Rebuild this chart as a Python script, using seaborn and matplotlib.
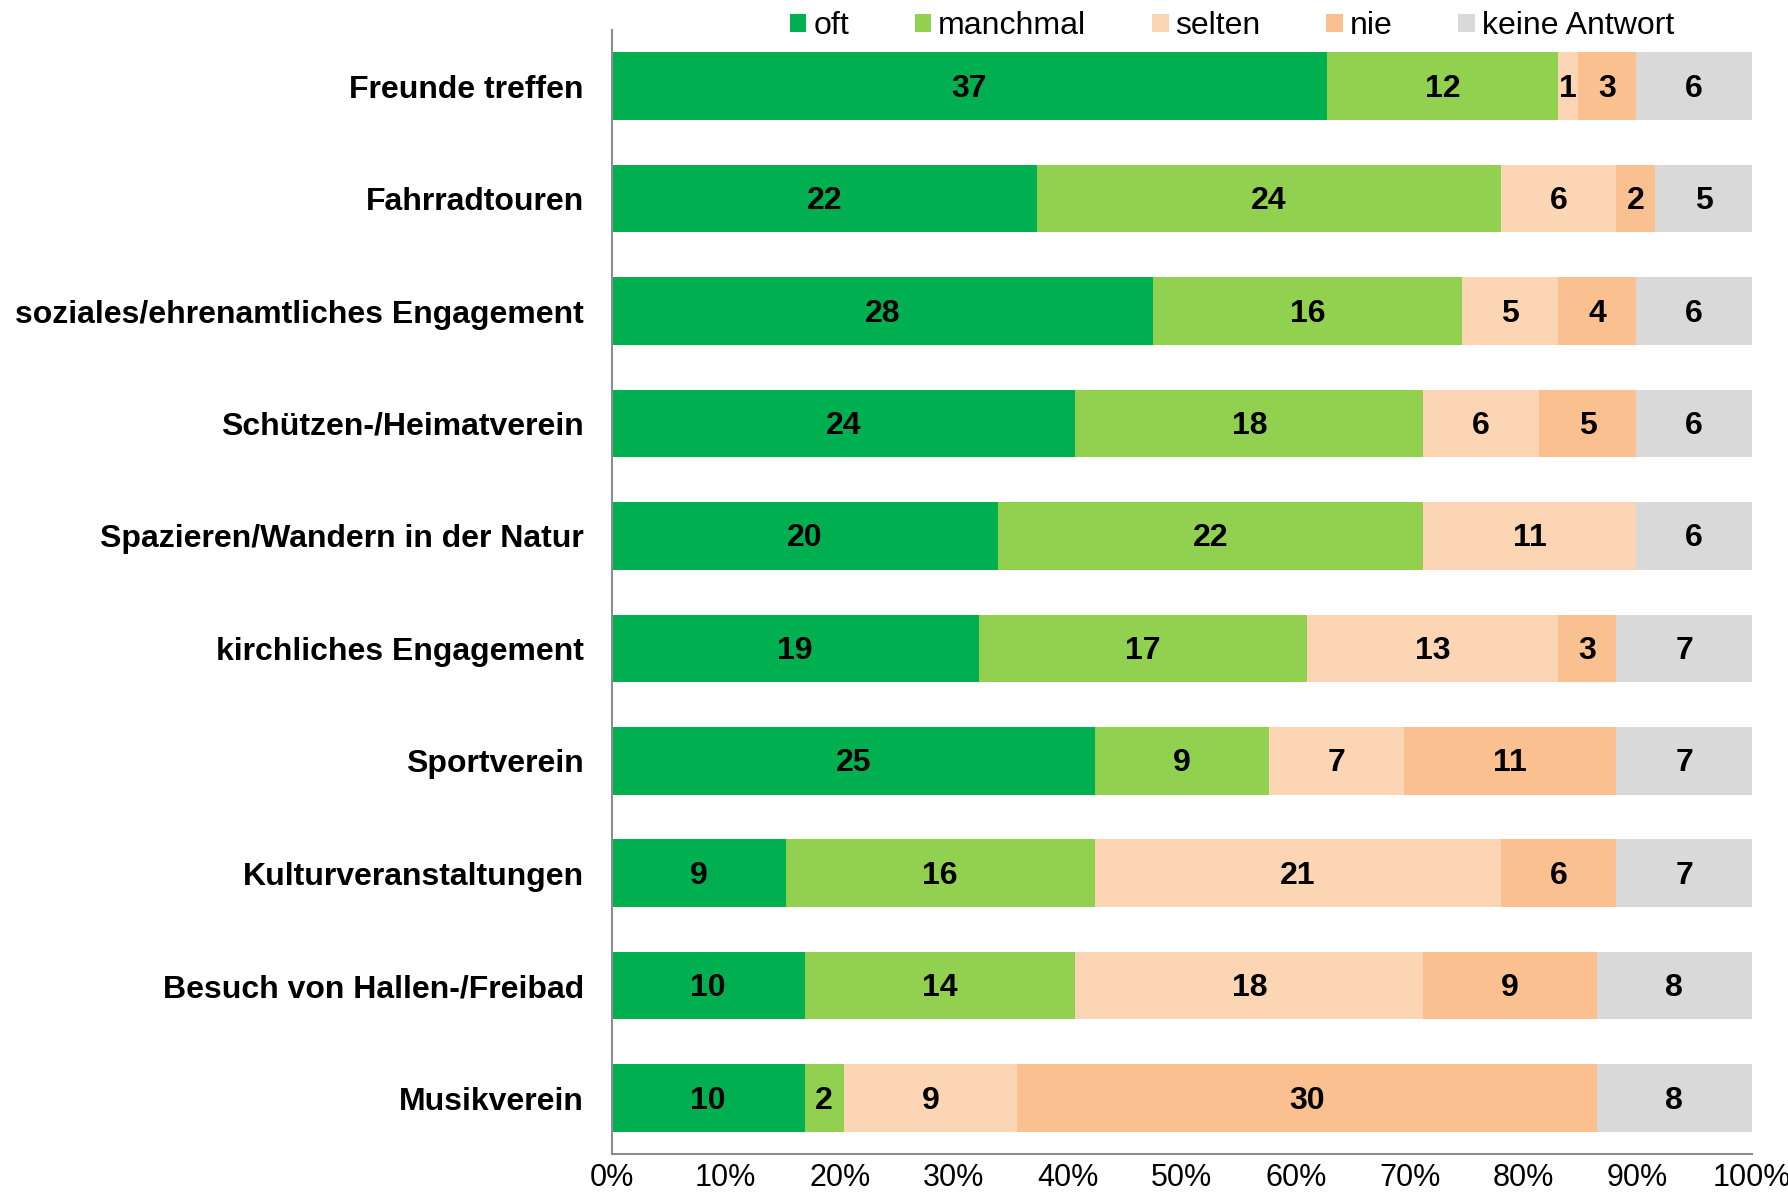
import matplotlib
matplotlib.use("Agg")
import matplotlib.pyplot as plt
from matplotlib.patches import Patch
from matplotlib.ticker import FixedLocator
from matplotlib.transforms import ScaledTranslation
import seaborn as sns
import numpy as np

categories = [
    "Freunde treffen",
    "Fahrradtouren",
    "soziales/ehrenamtliches Engagement",
    "Schützen-/Heimatverein",
    "Spazieren/Wandern in der Natur",
    "kirchliches Engagement",
    "Sportverein",
    "Kulturveranstaltungen",
    "Besuch von Hallen-/Freibad",
    "Musikverein",
]
series_names = ["oft", "manchmal", "selten", "nie", "keine Antwort"]
oft = [37, 22, 28, 24, 20, 19, 25, 9, 10, 10]
manchmal = [12, 24, 16, 18, 22, 17, 9, 16, 14, 2]
selten = [1, 6, 5, 6, 11, 13, 7, 21, 18, 9]
nie = [3, 2, 4, 5, 0, 3, 11, 6, 9, 30]
keine_antwort = [6, 5, 6, 6, 6, 7, 7, 7, 8, 8]
colors = ["#00B050", "#92D050", "#FCD5B5", "#FAC090", "#D9D9D9"]
xtick_values = list(range(0, 101, 10))

sns.set_style("white")
plt.rcParams["font.family"] = ["Liberation Sans", "DejaVu Sans"]
plt.rcParams["text.color"] = "black"
plt.rcParams["xtick.color"] = "black"
plt.rcParams["ytick.color"] = "black"

counts = np.array([oft, manchmal, selten, nie, keine_antwort], dtype=float)
totals = counts.sum(axis=0)
pct = counts / totals * 100
cum = np.cumsum(pct, axis=0)

fig = plt.figure(figsize=(17.88, 11.98), dpi=100)
ax = fig.add_axes([0.3421, 0.03648, 0.9797 - 0.3421, 0.975 - 0.03648])

for i in range(len(series_names) - 1, -1, -1):
    sns.barplot(x=cum[i], y=categories, order=categories, color=colors[i],
                orient="h", width=0.6, saturation=1, errorbar=None,
                edgecolor="none", linewidth=0, ax=ax)

label_tr = ax.transData + ScaledTranslation(0, -2.5 / 100, fig.dpi_scale_trans)
for i in range(len(series_names)):
    for j in range(len(categories)):
        v = counts[i, j]
        if v > 0:
            xc = cum[i, j] - pct[i, j] / 2
            ax.text(xc, j, f"{int(v)}", ha="center", va="center",
                    fontsize=23, fontweight="bold", color="black",
                    transform=label_tr)

ax.set_xlim(0, 100)
ax.set_ylim(len(categories) - 0.5, -0.5)
ax.set_xticks(xtick_values)
ax.set_xticklabels([f"{v}%" for v in xtick_values], fontsize=22, color="black")
ax.set_yticks(range(len(categories)))
ax.set_yticklabels(categories, fontsize=23, fontweight="bold", color="black")
ax.yaxis.set_minor_locator(FixedLocator(np.arange(-0.5, len(categories), 1.0)))
ax.set_xlabel("")
ax.set_ylabel("")

last = ax.get_xticklabels()[-1]
last.set_transform(last.get_transform() + ScaledTranslation(-8 / 100, 0, fig.dpi_scale_trans))

gray = "#8C8C8C"
for s in ["top", "right"]:
    ax.spines[s].set_visible(False)
for s in ["left", "bottom"]:
    ax.spines[s].set_color(gray)
    ax.spines[s].set_linewidth(1.5)

ax.tick_params(axis="y", which="major", length=0, pad=20)
ax.tick_params(axis="y", which="minor", length=6.5, width=1.5, color=gray, direction="out")
ax.tick_params(axis="x", which="major", length=5.5, width=1.5, color=gray, direction="out", pad=1)

handles = [Patch(facecolor=c, edgecolor="none") for c in colors]
fig.legend(handles, series_names, loc="center", bbox_to_anchor=(0.689, 0.978),
           ncol=5, frameon=False, fontsize=23, handlelength=0.52, handleheight=0.52,
           handletextpad=0.22, columnspacing=2.05, borderpad=0, borderaxespad=0)

fig.savefig("out.png", dpi=100)
